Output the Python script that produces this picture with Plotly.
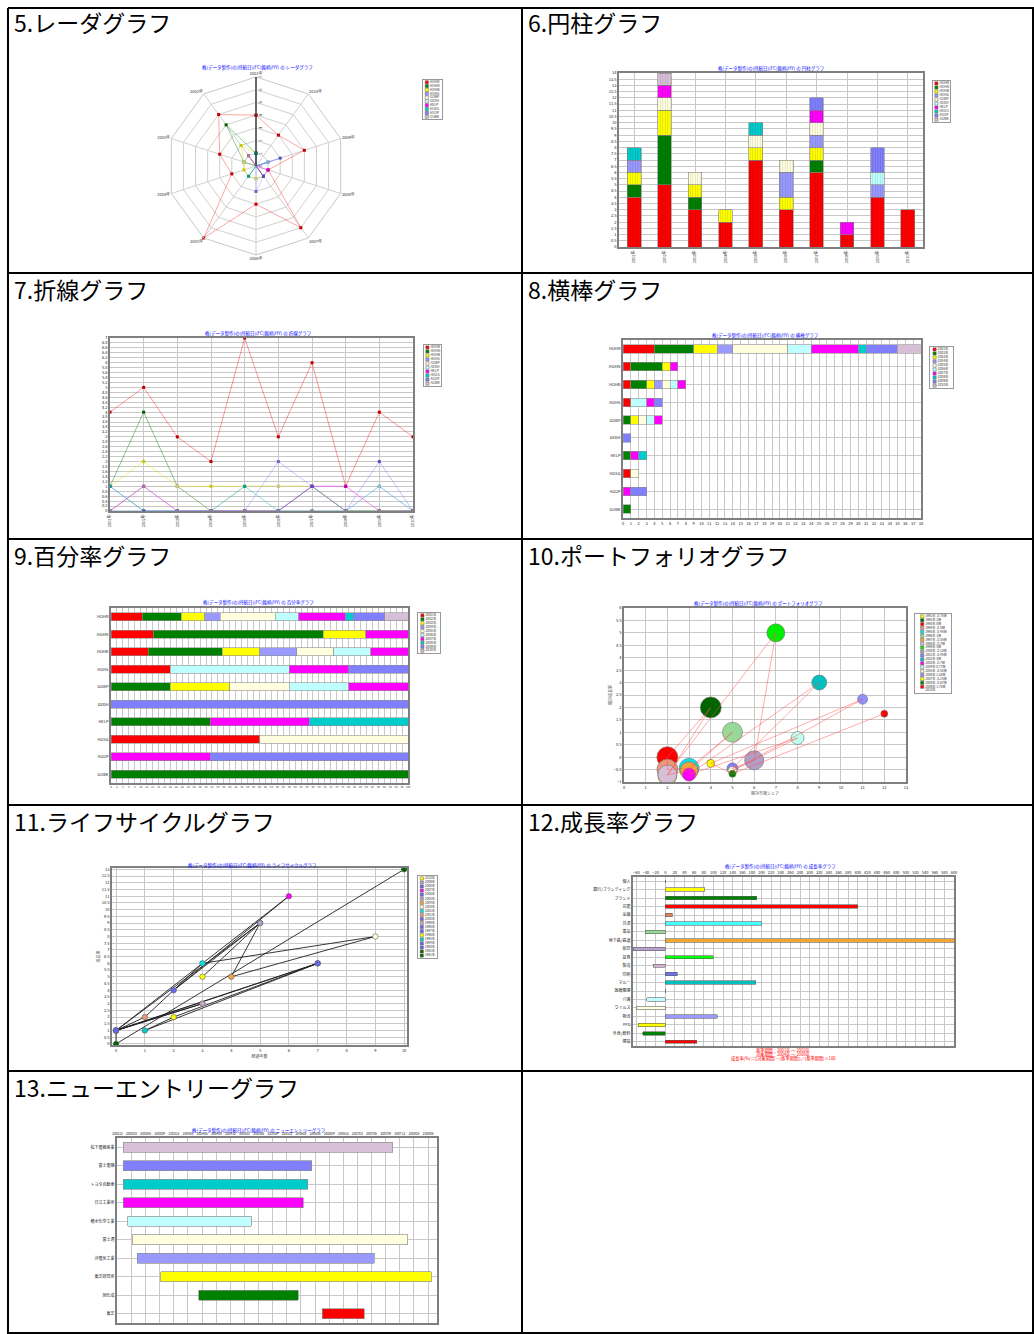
import pandas as pd
import plotly.graph_objects as go

W, H = 1034, 1334
FONT = "Noto Sans CJK JP"

# ---------------------------------------------------------------- data
years = ["2001年", "2002年", "2003年", "2004年", "2005年",
         "2006年", "2007年", "2008年", "2009年", "2010年"]
codes = ["HOHR", "HOHN", "HOHB", "HOHS", "GOBP",
         "GEDH", "HELP", "HOSG", "AGOP", "GUBK"]

hohr = [4, 5, 3, 2, 7, 3, 6, 1, 4, 3]
hohn = [1, 4, 1, 0, 0, 0, 1, 0, 0, 0]
hohb = [1, 2, 1, 1, 1, 1, 1, 0, 0, 0]
hohs = [1, 0, 0, 0, 0, 2, 1, 0, 1, 0]
gobp = [0, 1, 1, 0, 1, 1, 1, 0, 0, 0]
gedh = [0, 0, 0, 0, 0, 0, 0, 0, 1, 0]
help_ = [0, 1, 0, 0, 0, 0, 1, 1, 0, 0]
hosg = [1, 0, 0, 0, 1, 0, 0, 0, 0, 0]
agop = [0, 0, 0, 0, 0, 0, 1, 0, 2, 0]
gubk = [0, 1, 0, 0, 0, 0, 0, 0, 0, 0]
series = [hohr, hohn, hohb, hohs, gobp, gedh, help_, hosg, agop, gubk]

palette = ["#ff0000", "#008000", "#ffff00", "#9999ff", "#ffffe0",
           "#c0ffff", "#ff00ff", "#00cccc", "#8080ff", "#d8bfd8"]
dark = ["#c00000", "#006000", "#c8c800", "#6666cc", "#c8c8a0",
        "#80c8c8", "#c000c0", "#009999", "#5050c0", "#a080a0"]
faded = ["rgba(255,0,0,0.45)", "rgba(0,128,0,0.5)", "rgba(230,230,0,0.5)",
         "rgba(120,120,255,0.45)", "rgba(200,200,150,0.5)", "rgba(100,210,210,0.5)",
         "rgba(255,0,255,0.5)", "rgba(0,180,180,0.5)", "rgba(110,110,255,0.45)",
         "rgba(180,140,180,0.5)"]

# portfolio (bubble)
pf_years = ["1991年", "1992年", "1993年", "1994年", "1995年", "1996年", "1997年",
            "1998年", "1999年", "2000年", "2001年", "2002年", "2003年", "2004年",
            "2005年", "2006年", "2007年", "2008年", "2009年"]
pf_share = [2, 4, 2, 2, 3, 5, 3, 2, 7, 6, 5, 9, 3, 8, 5, 11, 4, 5, 12]
pf_growth = [-0.75, 2, 0, -0.5, -0.45, 1, -0.55, -0.7, 5, -0.13,
             -0.45, 3, -0.7, 0.77, -0.55, 2.33, -0.25, -0.67, 1.75]
pf_size = [19, 21, 21, 21, 20, 20, 18, 19, 18, 19, 11, 15, 13, 13, 9, 10, 8, 7, 7]
pf_colors = ["#ffff00", "#006400", "#ff0000", "#e9967a", "#00e5ee", "#98d898",
             "#f4a43c", "#d8bfd8", "#00ee00", "#b0a0c8", "#8080ff", "#00c0c0",
             "#ff00ff", "#c0fff0", "#eeeed0", "#9090ff", "#ffff00", "#008000", "#ff0000"]

# lifecycle
lc_years = ["1991年", "1992年", "1993年", "1994年", "1995年", "1996年", "1997年",
            "1998年", "1999年", "2000年", "2001年", "2002年", "2003年", "2004年",
            "2005年", "2006年", "2007年", "2008年", "2009年", "2010年"]
lc_x = [10, 0, 0, 7, 1, 2, 7, 0, 3, 0, 1, 3, 9, 4, 5, 2, 6, 0, 5, 3]
lc_y = [13, 0, 1, 6, 1, 2, 6, 1, 3, 1, 2, 6, 8, 5, 9, 4, 11, 1, 9, 5]
lc_colors = ["#006400", "#006400", "#6666ee", "#6666ee", "#00cccc", "#ffff00",
             "#6666ee", "#6666ee", "#c8a8c8", "#6666ee", "#e9967a", "#00e5e5",
             "#ffffe0", "#f4a43c", "#b0a0c8", "#6666ee", "#ff00ff", "#6666ee",
             "#b0a0c8", "#ffff00"]

# growth rate
gr_cats = ["個人", "銀行/ブランディング", "ブランド", "芸能", "金融", "共済", "薬品",
           "地下鉄/鉄道", "航空", "証券", "製造", "印刷", "マルー", "医療関連",
           "介護", "ウイルス", "物流", "PFD", "外食/飲料", "建設"]
gr_vals = [0, 82, 190, 400, 15, 200, -42, 600, -67, 100,
           -25, 25, 188, 0, -38, -59, 108, -56, -47, 65]
gr_colors = ["#ff0000", "#ffff00", "#008000", "#ff0000", "#e08060", "#40ffff",
             "#98d898", "#f0a830", "#b8a0d0", "#00ff00", "#d8b0d0", "#7070ee",
             "#00c0c0", "#888888", "#c0ffff", "#ffffe0", "#9999ff", "#ffff00",
             "#008000", "#ff0000"]

# new entry
ent_names = ["松下電器産業", "富士電機", "トヨタ自動車", "日立工業所", "積水化学工業",
             "富士通", "沖電気工業", "東芝研究所", "旭化成", "東芝"]
ent_start = ["2003-01-07", "2003-01-07", "2003-01-07", "2003-01-07", "2003-02-07",
             "2003-03-07", "2003-04-08", "2003-09-07", "2004-05-10", "2006-07-16"]
ent_end = ["2007-10-15", "2006-05-10", "2006-04-13", "2006-03-15", "2005-04-13",
           "2008-01-22", "2007-06-19", "2008-06-22", "2006-02-13", "2007-04-16"]

prefix = "株(データ製作)の(持続日)(FC)銘柄(HY) の "

# ---------------------------------------------------------------- helpers
fig = go.Figure()
axes = {}


def box_x(a, b):
    return [a / W, b / W]


def box_y(top, bottom):
    return [1 - bottom / H, 1 - top / H]


def grid_axis(**kw):
    d = dict(showline=True, mirror=True, linecolor="#7f7f7f", linewidth=1.5,
             showgrid=True, gridcolor="#c8c8c8", gridwidth=1, zeroline=False,
             ticks="", tickfont=dict(size=4, color="#222", family=FONT),
             automargin=False, fixedrange=True)
    d.update(kw)
    return d


def add_axes(n, box, xkw, ykw):
    x0, x1, y0, y1 = box
    xa = grid_axis(domain=box_x(x0, x1), anchor=f"y{n}")
    ya = grid_axis(domain=box_y(y0, y1), anchor=f"x{n}")
    xa.update(xkw)
    ya.update(ykw)
    axes[f"xaxis{n}"] = xa
    axes[f"yaxis{n}"] = ya
    return f"x{n}", f"y{n}"


def add_legend(n, box, labels, colors, symbol="square", msize=3.2, fsize=3.4):
    bare = dict(showgrid=False, showticklabels=False, linewidth=1, linecolor="#999")
    xr, yr = add_axes(n, box, dict(range=[0, 1], **bare),
                      dict(range=[len(labels) - 0.4, -0.6], **bare))
    fig.add_trace(go.Scatter(
        x=[0.2] * len(labels), y=list(range(len(labels))), mode="markers+text",
        text=labels, textposition="middle right",
        textfont=dict(size=fsize, color="#333", family=FONT),
        marker=dict(symbol=symbol, size=msize, color=colors,
                    line=dict(color=["#666" if c != "rgba(0,0,0,0)" else c for c in colors],
                              width=0.5)),
        xaxis=xr, yaxis=yr, showlegend=False, hoverinfo="skip", cliponaxis=False))


annotations = []


def note(x, y, text, size, color, xanchor="center"):
    annotations.append(dict(x=x / W, y=1 - y / H, xref="paper", yref="paper",
                            xanchor=xanchor, yanchor="middle", text=text,
                            showarrow=False, borderpad=0,
                            font=dict(size=size, color=color, family=FONT)))


def chart_title(x, y, name):
    note(x, y, prefix + name, 4.5, "#0000ff")


def nz(vals):
    return [v if v else None for v in vals]


# ---------------------------------------------------------------- 5 radar
for i, code in enumerate(codes):
    fig.add_trace(go.Scatterpolar(
        r=series[i] + [series[i][0]], theta=years + [years[0]], mode="lines+markers",
        line=dict(color=faded[i], width=0.8),
        marker=dict(symbol="square", size=3, color=dark[i]),
        name=code, showlegend=False))
fig.update_layout(polar=dict(
    domain=dict(x=box_x(167, 345), y=box_y(77, 255)),
    gridshape="linear", bgcolor="white",
    angularaxis=dict(rotation=90, direction="counterclockwise", showline=True,
                     linecolor="#c8c8c8", gridcolor="#d0d0d0", ticks="",
                     tickfont=dict(size=4, color="#333", family=FONT)),
    radialaxis=dict(range=[0, 7], dtick=1, angle=90, tickangle=0, showline=True,
                    linecolor="#404040", linewidth=1.5, gridcolor="#d0d0d0",
                    ticks="", tickfont=dict(size=4, color="#333", family=FONT))))
chart_title(257, 67, "レーダグラフ")
add_legend(30, (423, 442, 80, 119), codes, palette)

# ---------------------------------------------------------------- 6 stacked column
xr, yr = add_axes(2, (619, 923, 73, 247),
                  dict(type="category", tickangle=-90),
                  dict(range=[0, 14], dtick=0.5))
for i, code in enumerate(codes):
    fig.add_trace(go.Bar(
        x=years, y=nz(series[i]), name=code, width=0.45, xaxis=xr, yaxis=yr,
        marker=dict(color=palette[i], line=dict(color="#808080", width=0.6),
                    pattern=dict(shape="|", size=2.5, solidity=0.2,
                                 bgcolor=palette[i], fgcolor="rgba(0,0,0,0.2)")),
        showlegend=False))
chart_title(771, 69, "円柱グラフ")
add_legend(31, (933, 950, 81, 122), codes, palette)

# ---------------------------------------------------------------- 7 line
xr, yr = add_axes(3, (110, 413, 338, 511),
                  dict(type="category", range=[0, 9], tickangle=-90),
                  dict(range=[0, 7], dtick=0.2))
for i, code in enumerate(codes):
    fig.add_trace(go.Scatter(
        x=years, y=series[i], mode="lines+markers", name=code, xaxis=xr, yaxis=yr,
        line=dict(color=faded[i], width=0.9),
        marker=dict(symbol="square", size=3, color=dark[i]),
        showlegend=False, cliponaxis=False))
chart_title(258, 333, "折線グラフ")
add_legend(32, (424, 441, 345, 386), codes, palette)

# ---------------------------------------------------------------- 8 horizontal stacked bar
xr, yr = add_axes(4, (623, 921, 340, 518),
                  dict(range=[0, 38], dtick=1),
                  dict(type="category", autorange="reversed"))
for j, yname in enumerate(years):
    fig.add_trace(go.Bar(
        y=codes, x=nz([s[j] for s in series]), orientation="h", name=yname,
        width=0.48, xaxis=xr, yaxis=yr,
        marker=dict(color=palette[j], line=dict(color="#909090", width=0.6)),
        showlegend=False))
chart_title(765, 336, "横棒グラフ")
add_legend(33, (930, 953, 347, 388), years, palette)

# ---------------------------------------------------------------- 9 percentage
totals = [sum(s) for s in series]
xr, yr = add_axes(5, (111, 408, 608, 783),
                  dict(range=[0, 100], dtick=2, tickangle=0,
                       tickfont=dict(size=2.8, family=FONT)),
                  dict(type="category", autorange="reversed"))
for j, yname in enumerate(years):
    fig.add_trace(go.Bar(
        y=codes, x=nz([s[j] / t * 100 for s, t in zip(series, totals)]),
        orientation="h", name=yname, width=0.46, xaxis=xr, yaxis=yr,
        marker=dict(color=palette[j], line=dict(color="#909090", width=0.6)),
        showlegend=False))
chart_title(258, 602, "百分率グラフ")
add_legend(34, (418, 440, 613, 653), years, palette)

# ---------------------------------------------------------------- 10 portfolio
xr, yr = add_axes(6, (624, 906, 608, 782),
                  dict(range=[0, 13], dtick=1,
                       title=dict(text="相対市場シェア", standoff=1,
                                  font=dict(size=4, family=FONT))),
                  dict(range=[-1, 6], dtick=0.5,
                       title=dict(text="相対成長率", standoff=1,
                                  font=dict(size=4, family=FONT))))
fig.add_trace(go.Scatter(
    x=pf_share, y=pf_growth, mode="markers", xaxis=xr, yaxis=yr, showlegend=False,
    marker=dict(size=pf_size, color=pf_colors, opacity=1,
                line=dict(color="#707070", width=0.6))))
fig.add_trace(go.Scatter(
    x=pf_share, y=pf_growth, mode="lines", xaxis=xr, yaxis=yr, showlegend=False,
    line=dict(color="rgba(255,80,80,0.6)", width=0.8)))
chart_title(758, 603, "ポートフォリオグラフ")
add_legend(35, (915, 951, 614, 693),
           [f"{y} {g:g}倍" for y, g in zip(pf_years, pf_growth)] + ["2010年"],
           pf_colors + ["rgba(0,0,0,0)"], fsize=3.2)

# ---------------------------------------------------------------- 11 lifecycle
xr, yr = add_axes(7, (112, 407, 868, 1045),
                  dict(range=[-0.14, 10.1], dtick=1,
                       title=dict(text="経過年数", standoff=1,
                                  font=dict(size=4, family=FONT))),
                  dict(range=[-0.08, 13.1], dtick=0.5,
                       title=dict(text="成長率", standoff=1,
                                  font=dict(size=4, family=FONT))))
fig.add_trace(go.Scatter(
    x=lc_x, y=lc_y, mode="lines", xaxis=xr, yaxis=yr, showlegend=False,
    line=dict(color="#202020", width=0.9)))
fig.add_trace(go.Scatter(
    x=lc_x, y=lc_y, mode="markers", xaxis=xr, yaxis=yr, showlegend=False,
    marker=dict(size=5.5, color=lc_colors, line=dict(color="#606060", width=0.6)),
    cliponaxis=False))
chart_title(252, 865, "ライフサイクルグラフ")
add_legend(36, (418, 437, 876, 958), lc_years[::-1], lc_colors[::-1], fsize=3.2)

# ---------------------------------------------------------------- 12 growth rate
xr, yr = add_axes(8, (633, 954, 877, 1046),
                  dict(range=[-67, 600], dtick=20, tick0=0, side="top"),
                  dict(type="category", autorange="reversed"))
fig.add_trace(go.Bar(
    y=gr_cats, x=gr_vals, orientation="h", width=0.4, xaxis=xr, yaxis=yr,
    marker=dict(color=gr_colors, line=dict(color="#606060", width=0.6)),
    showlegend=False))
chart_title(780, 866, "成長率グラフ")
for k, line in enumerate(["基準期間：2001年 ～ 2002年",
                          "対象期間：2004年 ～ 2006年",
                          "成長率(%)＝((対象期間)－(基準期間))／(基準期間)×100"]):
    note(783, 1050 + 4.3 * k, line, 4.2, "#ff0000")

# ---------------------------------------------------------------- 13 new entry
starts = pd.to_datetime(ent_start)
durations = ((pd.to_datetime(ent_end) - starts).total_seconds() * 1000).tolist()
xr, yr = add_axes(9, (117, 437, 1138, 1323),
                  dict(type="date", range=["2002-11-28", "2008-07-28"], tickangle=0,
                       tick0="2002-12-01", dtick="M3", tickformat="%Y%m", side="top",
                       tickfont=dict(size=3.2, color="#222", family=FONT)),
                  dict(type="category", autorange="reversed"))
fig.add_trace(go.Bar(
    y=ent_names, x=durations, base=ent_start, orientation="h", width=0.53,
    xaxis=xr, yaxis=yr, showlegend=False,
    marker=dict(color=palette[::-1], line=dict(color="#909090", width=0.7))))
chart_title(258, 1130, "ニューエントリーグラフ")

# ---------------------------------------------------------------- table frame + headers
headers = [("5.レーダグラフ", 13, 22), ("6.円柱グラフ", 527, 22),
           ("7.折線グラフ", 13, 289), ("8.横棒グラフ", 527, 289),
           ("9.百分率グラフ", 13, 555), ("10.ポートフォリオグラフ", 527, 555),
           ("11.ライフサイクルグラフ", 13, 821), ("12.成長率グラフ", 527, 821),
           ("13.ニューエントリーグラフ", 13, 1087)]
for text, x, y in headers:
    note(x, y, text, 23, "#000", xanchor="left")

shapes = []
for y in [8, 273, 539, 805, 1071, 1333]:
    shapes.append(dict(type="line", xref="paper", yref="paper", x0=8 / W, x1=1,
                       y0=1 - y / H, y1=1 - y / H, line=dict(color="#000", width=2)))
for x in [8, 522, 1033]:
    shapes.append(dict(type="line", xref="paper", yref="paper", x0=x / W, x1=x / W,
                       y0=0, y1=1 - 8 / H, line=dict(color="#000", width=2)))

fig.update_layout(
    template="none", width=W, height=H, autosize=False,
    margin=dict(l=0, r=0, t=0, b=0), paper_bgcolor="white", plot_bgcolor="white",
    barmode="stack", showlegend=False, font=dict(family=FONT),
    annotations=annotations, shapes=shapes, **axes)

fig.write_html("out.html", config={"displayModeBar": False},
               post_script="document.body.style.margin='0';")
